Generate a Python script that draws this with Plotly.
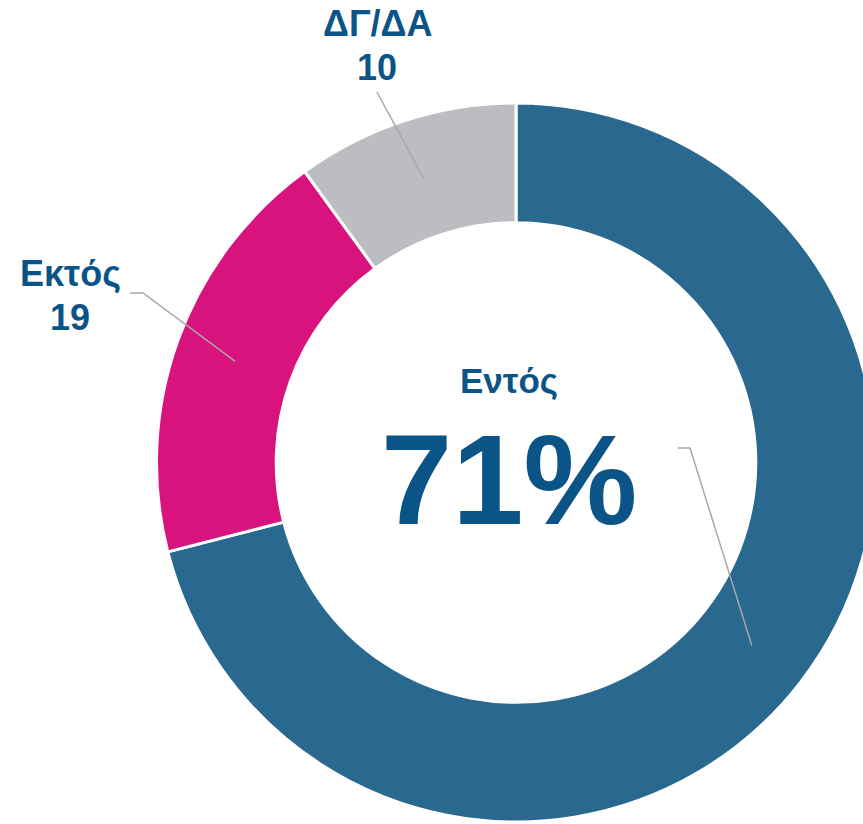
import math
import plotly.graph_objects as go

categories = ["Εντός", "Εκτός", "ΔΓ/ΔΑ"]
values = [71, 19, 10]
colors = ["#29688f", "#d9137e", "#bcbdc0"]

TEXT_COLOR = "#0b5487"
LINE_COLOR = "#a8a8a8"
FONT = "Liberation Sans, Arial, sans-serif"

# figure geometry (pixels)
W, H = 876, 824
ML, MT, MB, MR = 156, 103, 2, 0
PW, PH = W - ML - MR, H - MT - MB
R = min(PW, PH) / 2
CX, CY = ML + PW / 2, MT + PH / 2
HOLE = 0.667


def px2paper(x, y):
    return (x - ML) / PW, 1 - (y - MT) / PH


def ring_point(idx, frac=0.83):
    total = sum(values)
    start = sum(values[:idx]) / total
    mid = (start + values[idx] / total / 2) * 2 * math.pi
    return CX + frac * R * math.sin(mid), CY - frac * R * math.cos(mid)


fig = go.Figure(go.Pie(
    labels=categories,
    values=values,
    hole=HOLE,
    sort=False,
    direction="clockwise",
    rotation=0,
    marker=dict(colors=colors, line=dict(color="white", width=3)),
    textinfo="none",
    hoverinfo="label+value",
    showlegend=False,
    domain=dict(x=[0, 1], y=[0, 1]),
))

# leader lines: (slice index, list of outer points in px)
leaders = [
    (0, [(690, 448), (678, 448)]),
    (1, [(143, 293), (130, 293)]),
    (2, [(377, 92)]),
]
shapes = []
for idx, pts in leaders:
    p0 = ring_point(idx)
    path_pts = [p0] + pts
    d = ""
    for k, (x, y) in enumerate(path_pts):
        xp, yp = px2paper(x, y)
        d += ("M" if k == 0 else "L") + f"{xp},{yp} "
    shapes.append(dict(type="path", xref="paper", yref="paper", path=d.strip(),
                       line=dict(color=LINE_COLOR, width=1.5)))

annotations = []


def add_text(text, x, y, size):
    xp, yp = px2paper(x, y)
    annotations.append(dict(text=text, x=xp, y=yp, xref="paper", yref="paper",
                            showarrow=False, xanchor="center", yanchor="middle",
                            font=dict(family=FONT, size=size, color=TEXT_COLOR, weight="bold")))


total = sum(values)
add_text(categories[0], 509, 380, 35)
add_text(f"{round(values[0] / total * 100)}%", 509, 480, 128)
add_text(categories[2], 377, 23, 36)
add_text(str(values[2]), 377, 67, 36)
add_text(categories[1], 70, 273, 36)
add_text(str(values[1]), 70, 317, 36)

fig.update_layout(
    width=W, height=H,
    margin=dict(l=ML, r=MR, t=MT, b=MB, pad=0),
    paper_bgcolor="white", plot_bgcolor="white",
    shapes=shapes, annotations=annotations,
)

fig.write_html("out.html", config={"displayModeBar": False}, post_script=(
    "document.documentElement.style.overflow='hidden';"
    "document.body.style.overflow='hidden';document.body.style.margin='0';"
))
